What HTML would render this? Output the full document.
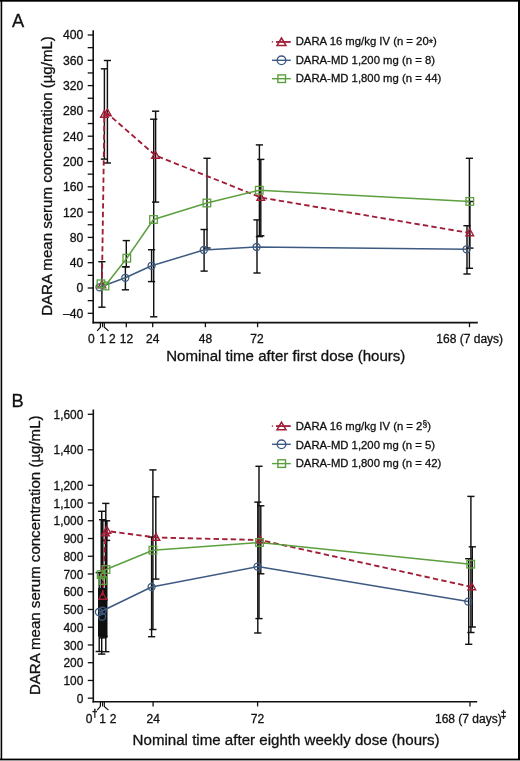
<!DOCTYPE html>
<html><head><meta charset="utf-8"><title>DARA serum concentration</title>
<style>html,body{margin:0;padding:0;background:#fff;width:520px;height:761px;overflow:hidden}svg{display:block;will-change:transform}text{font-family:"Liberation Sans",sans-serif;stroke:#111;stroke-width:0.3px}</style>
</head><body>
<svg width="520" height="761" viewBox="0 0 520 761" font-family="Liberation Sans, sans-serif" fill="#111">
<rect x="0" y="0" width="520" height="761" fill="#fff"/>
<line x1="93.2" y1="30.3" x2="93.2" y2="323.40000000000003" stroke="#111" stroke-width="1.6" />
<line x1="87.7" y1="313.3" x2="93.2" y2="313.3" stroke="#111" stroke-width="1.3" />
<line x1="87.7" y1="300.65" x2="93.2" y2="300.65" stroke="#111" stroke-width="1.3" />
<line x1="87.7" y1="288.0" x2="93.2" y2="288.0" stroke="#111" stroke-width="1.3" />
<line x1="87.7" y1="275.35" x2="93.2" y2="275.35" stroke="#111" stroke-width="1.3" />
<line x1="87.7" y1="262.7" x2="93.2" y2="262.7" stroke="#111" stroke-width="1.3" />
<line x1="87.7" y1="250.05" x2="93.2" y2="250.05" stroke="#111" stroke-width="1.3" />
<line x1="87.7" y1="237.4" x2="93.2" y2="237.4" stroke="#111" stroke-width="1.3" />
<line x1="87.7" y1="224.75" x2="93.2" y2="224.75" stroke="#111" stroke-width="1.3" />
<line x1="87.7" y1="212.10000000000002" x2="93.2" y2="212.10000000000002" stroke="#111" stroke-width="1.3" />
<line x1="87.7" y1="199.45" x2="93.2" y2="199.45" stroke="#111" stroke-width="1.3" />
<line x1="87.7" y1="186.8" x2="93.2" y2="186.8" stroke="#111" stroke-width="1.3" />
<line x1="87.7" y1="174.15" x2="93.2" y2="174.15" stroke="#111" stroke-width="1.3" />
<line x1="87.7" y1="161.5" x2="93.2" y2="161.5" stroke="#111" stroke-width="1.3" />
<line x1="87.7" y1="148.85000000000002" x2="93.2" y2="148.85000000000002" stroke="#111" stroke-width="1.3" />
<line x1="87.7" y1="136.20000000000002" x2="93.2" y2="136.20000000000002" stroke="#111" stroke-width="1.3" />
<line x1="87.7" y1="123.55000000000001" x2="93.2" y2="123.55000000000001" stroke="#111" stroke-width="1.3" />
<line x1="87.7" y1="110.9" x2="93.2" y2="110.9" stroke="#111" stroke-width="1.3" />
<line x1="87.7" y1="98.25000000000003" x2="93.2" y2="98.25000000000003" stroke="#111" stroke-width="1.3" />
<line x1="87.7" y1="85.60000000000002" x2="93.2" y2="85.60000000000002" stroke="#111" stroke-width="1.3" />
<line x1="87.7" y1="72.95000000000002" x2="93.2" y2="72.95000000000002" stroke="#111" stroke-width="1.3" />
<line x1="87.7" y1="60.30000000000001" x2="93.2" y2="60.30000000000001" stroke="#111" stroke-width="1.3" />
<line x1="87.7" y1="47.650000000000006" x2="93.2" y2="47.650000000000006" stroke="#111" stroke-width="1.3" />
<line x1="87.7" y1="35.00000000000003" x2="93.2" y2="35.00000000000003" stroke="#111" stroke-width="1.3" />
<line x1="92.6" y1="322.6" x2="477.8" y2="322.6" stroke="#111" stroke-width="1.6" />
<polyline points="100.4,322.6 100.4,327.20000000000005 97.2,330.90000000000003" fill="none" stroke="#111" stroke-width="1.2"/>
<line x1="102.5" y1="322.6" x2="102.5" y2="327.20000000000005" stroke="#111" stroke-width="1.1" />
<polyline points="104.3,322.6 104.3,327.20000000000005 108.5,330.90000000000003" fill="none" stroke="#111" stroke-width="1.2"/>
<line x1="126.3" y1="322.6" x2="126.3" y2="327.20000000000005" stroke="#111" stroke-width="1.3" />
<line x1="152.7" y1="322.6" x2="152.7" y2="327.20000000000005" stroke="#111" stroke-width="1.3" />
<line x1="205.4" y1="322.6" x2="205.4" y2="327.20000000000005" stroke="#111" stroke-width="1.3" />
<line x1="257.6" y1="322.6" x2="257.6" y2="327.20000000000005" stroke="#111" stroke-width="1.3" />
<line x1="469.5" y1="322.6" x2="469.5" y2="327.20000000000005" stroke="#111" stroke-width="1.3" />
<text x="83.3" y="317.7" font-size="12.2" text-anchor="end" >&#8211;40</text>
<text x="83.3" y="292.4" font-size="12.2" text-anchor="end" >0</text>
<text x="83.3" y="267.09999999999997" font-size="12.2" text-anchor="end" >40</text>
<text x="83.3" y="241.8" font-size="12.2" text-anchor="end" >80</text>
<text x="83.3" y="216.50000000000003" font-size="12.2" text-anchor="end" >120</text>
<text x="83.3" y="191.20000000000002" font-size="12.2" text-anchor="end" >160</text>
<text x="83.3" y="165.9" font-size="12.2" text-anchor="end" >200</text>
<text x="83.3" y="140.60000000000002" font-size="12.2" text-anchor="end" >240</text>
<text x="83.3" y="115.30000000000001" font-size="12.2" text-anchor="end" >280</text>
<text x="83.3" y="90.00000000000003" font-size="12.2" text-anchor="end" >320</text>
<text x="83.3" y="64.70000000000002" font-size="12.2" text-anchor="end" >360</text>
<text x="83.3" y="39.40000000000003" font-size="12.2" text-anchor="end" >400</text>
<text x="91.4" y="343.4" font-size="12" text-anchor="middle" >0</text>
<text x="102.5" y="343.4" font-size="12" text-anchor="middle" >1</text>
<text x="112.4" y="343.4" font-size="12" text-anchor="middle" >2</text>
<text x="126.5" y="343.4" font-size="12" text-anchor="middle" >12</text>
<text x="152.7" y="343.4" font-size="12" text-anchor="middle" >24</text>
<text x="205.4" y="343.4" font-size="12" text-anchor="middle" >48</text>
<text x="257.0" y="343.4" font-size="12" text-anchor="middle" >72</text>
<text x="469.7" y="343.4" font-size="12" text-anchor="middle" >168 (7 days)</text>
<text x="166.2" y="361.2" font-size="15.05" text-anchor="start" >Nominal time after first dose (hours)</text>
<text transform="translate(52.1,315.8) rotate(-90)" x="0" y="0" font-size="15.05">DARA mean serum concentration (&#181;g/mL)</text>
<text x="12.0" y="27.4" font-size="18.3" text-anchor="start" >A</text>
<rect x="271.8" y="41.199999999999996" width="1.3" height="1.3" fill="#a11d36"/>
<line x1="276" y1="41.9" x2="290.6" y2="41.9" stroke="#a11d36" stroke-width="1.4" />
<polygon points="281.5,38.0 277.0,45.6 286.0,45.6" fill="none" stroke="#a11d36" stroke-width="1.5"/>
<line x1="276" y1="41.9" x2="290.6" y2="41.9" stroke="#a11d36" stroke-width="1.4" />
<line x1="272" y1="60.3" x2="290.8" y2="60.3" stroke="#3d5a82" stroke-width="1.4" />
<circle cx="281.5" cy="60.3" r="4.3" fill="none" stroke="#3d5a82" stroke-width="1.4"/>
<line x1="272" y1="78.7" x2="290.8" y2="78.7" stroke="#5c9f3e" stroke-width="1.4" />
<rect x="277.9" y="74.9" width="7.6" height="7.6" fill="none" stroke="#5c9f3e" stroke-width="1.4"/>
<text x="295.7" y="45.3" font-size="11.32" text-anchor="start" >DARA 16 mg/kg IV (n = 20<tspan dy="1.3" font-size="11">*</tspan><tspan dy="-1.3">)</tspan></text>
<text x="295.7" y="63.8" font-size="11.32" text-anchor="start" >DARA-MD 1,200 mg (n = 8)</text>
<text x="295.7" y="82.3" font-size="11.32" text-anchor="start" >DARA-MD 1,800 mg (n = 44)</text>
<line x1="101.9" y1="261.7" x2="101.9" y2="307.2" stroke="#111" stroke-width="1.45" />
<line x1="98.30000000000001" y1="261.7" x2="105.5" y2="261.7" stroke="#111" stroke-width="1.45" />
<line x1="98.30000000000001" y1="307.2" x2="105.5" y2="307.2" stroke="#111" stroke-width="1.45" />
<line x1="104.4" y1="68.8" x2="104.4" y2="159.1" stroke="#111" stroke-width="1.45" />
<line x1="100.80000000000001" y1="68.8" x2="108.0" y2="68.8" stroke="#111" stroke-width="1.45" />
<line x1="100.80000000000001" y1="159.1" x2="108.0" y2="159.1" stroke="#111" stroke-width="1.45" />
<line x1="107.4" y1="60.5" x2="107.4" y2="163.0" stroke="#111" stroke-width="1.45" />
<line x1="103.80000000000001" y1="60.5" x2="111.0" y2="60.5" stroke="#111" stroke-width="1.45" />
<line x1="103.80000000000001" y1="163.0" x2="111.0" y2="163.0" stroke="#111" stroke-width="1.45" />
<line x1="125.4" y1="266.8" x2="125.4" y2="289.8" stroke="#111" stroke-width="1.45" />
<line x1="121.80000000000001" y1="266.8" x2="129.0" y2="266.8" stroke="#111" stroke-width="1.45" />
<line x1="121.80000000000001" y1="289.8" x2="129.0" y2="289.8" stroke="#111" stroke-width="1.45" />
<line x1="126.3" y1="240.6" x2="126.3" y2="266.8" stroke="#111" stroke-width="1.45" />
<line x1="122.7" y1="240.6" x2="129.9" y2="240.6" stroke="#111" stroke-width="1.45" />
<line x1="122.7" y1="266.8" x2="129.9" y2="266.8" stroke="#111" stroke-width="1.45" />
<line x1="151.6" y1="249.7" x2="151.6" y2="281.6" stroke="#111" stroke-width="1.45" />
<line x1="148.0" y1="249.7" x2="155.2" y2="249.7" stroke="#111" stroke-width="1.45" />
<line x1="148.0" y1="281.6" x2="155.2" y2="281.6" stroke="#111" stroke-width="1.45" />
<line x1="153.7" y1="119.2" x2="153.7" y2="316.8" stroke="#111" stroke-width="1.45" />
<line x1="150.1" y1="119.2" x2="157.29999999999998" y2="119.2" stroke="#111" stroke-width="1.45" />
<line x1="150.1" y1="316.8" x2="157.29999999999998" y2="316.8" stroke="#111" stroke-width="1.45" />
<line x1="155.6" y1="111.2" x2="155.6" y2="202.1" stroke="#111" stroke-width="1.45" />
<line x1="152.0" y1="111.2" x2="159.2" y2="111.2" stroke="#111" stroke-width="1.45" />
<line x1="152.0" y1="202.1" x2="159.2" y2="202.1" stroke="#111" stroke-width="1.45" />
<line x1="204.1" y1="229.5" x2="204.1" y2="271.1" stroke="#111" stroke-width="1.45" />
<line x1="200.5" y1="229.5" x2="207.7" y2="229.5" stroke="#111" stroke-width="1.45" />
<line x1="200.5" y1="271.1" x2="207.7" y2="271.1" stroke="#111" stroke-width="1.45" />
<line x1="207.0" y1="158.3" x2="207.0" y2="248.0" stroke="#111" stroke-width="1.45" />
<line x1="203.4" y1="158.3" x2="210.6" y2="158.3" stroke="#111" stroke-width="1.45" />
<line x1="203.4" y1="248.0" x2="210.6" y2="248.0" stroke="#111" stroke-width="1.45" />
<line x1="257.0" y1="219.9" x2="257.0" y2="273.0" stroke="#111" stroke-width="1.45" />
<line x1="253.4" y1="219.9" x2="260.6" y2="219.9" stroke="#111" stroke-width="1.45" />
<line x1="253.4" y1="273.0" x2="260.6" y2="273.0" stroke="#111" stroke-width="1.45" />
<line x1="259.4" y1="144.9" x2="259.4" y2="236.6" stroke="#111" stroke-width="1.45" />
<line x1="255.79999999999998" y1="144.9" x2="263.0" y2="144.9" stroke="#111" stroke-width="1.45" />
<line x1="255.79999999999998" y1="236.6" x2="263.0" y2="236.6" stroke="#111" stroke-width="1.45" />
<line x1="260.8" y1="159.4" x2="260.8" y2="235.8" stroke="#111" stroke-width="1.45" />
<line x1="257.2" y1="159.4" x2="264.40000000000003" y2="159.4" stroke="#111" stroke-width="1.45" />
<line x1="257.2" y1="235.8" x2="264.40000000000003" y2="235.8" stroke="#111" stroke-width="1.45" />
<line x1="467.0" y1="225.7" x2="467.0" y2="274.0" stroke="#111" stroke-width="1.45" />
<line x1="463.4" y1="225.7" x2="470.6" y2="225.7" stroke="#111" stroke-width="1.45" />
<line x1="463.4" y1="274.0" x2="470.6" y2="274.0" stroke="#111" stroke-width="1.45" />
<line x1="469.4" y1="158.3" x2="469.4" y2="268.3" stroke="#111" stroke-width="1.45" />
<line x1="465.79999999999995" y1="158.3" x2="473.0" y2="158.3" stroke="#111" stroke-width="1.45" />
<line x1="465.79999999999995" y1="268.3" x2="473.0" y2="268.3" stroke="#111" stroke-width="1.45" />
<line x1="469.9" y1="201.5" x2="469.9" y2="248.1" stroke="#111" stroke-width="1.45" />
<line x1="466.29999999999995" y1="201.5" x2="473.5" y2="201.5" stroke="#111" stroke-width="1.45" />
<line x1="466.29999999999995" y1="248.1" x2="473.5" y2="248.1" stroke="#111" stroke-width="1.45" />
<polyline points="101.9,286.0 104.4,115 107.4,113.5 155.5,155.5 260.8,197.5 469.8,233" fill="none" stroke="#a11d36" stroke-width="1.85" stroke-dasharray="5.4,3.2" stroke-linejoin="round"/>
<polyline points="99.5,287.3 125.3,277.8 151.6,265.8 203.8,250 256.6,247 466.6,249.3" fill="none" stroke="#3d5a82" stroke-width="1.5"  stroke-linejoin="round"/>
<polyline points="101,283.8 105,286 126.8,258.2 153.5,219.5 206.9,203 259.3,190.2 469.8,201.4" fill="none" stroke="#5c9f3e" stroke-width="1.5"  stroke-linejoin="round"/>
<polygon points="101.9,280.896 98.10000000000001,287.736 105.7,287.736" fill="none" stroke="#a11d36" stroke-width="1.4" stroke-linejoin="miter"/>
<polygon points="104.4,110.396 100.60000000000001,117.236 108.2,117.236" fill="none" stroke="#a11d36" stroke-width="1.4" stroke-linejoin="miter"/>
<polygon points="107.4,108.896 103.60000000000001,115.736 111.2,115.736" fill="none" stroke="#a11d36" stroke-width="1.4" stroke-linejoin="miter"/>
<polygon points="155.5,151.396 151.7,158.236 159.3,158.236" fill="none" stroke="#a11d36" stroke-width="1.4" stroke-linejoin="miter"/>
<polygon points="260.8,193.396 257.0,200.236 264.6,200.236" fill="none" stroke="#a11d36" stroke-width="1.4" stroke-linejoin="miter"/>
<polygon points="469.8,228.896 466.0,235.736 473.6,235.736" fill="none" stroke="#a11d36" stroke-width="1.4" stroke-linejoin="miter"/>
<circle cx="99.5" cy="287.3" r="3.5" fill="none" stroke="#3d5a82" stroke-width="1.3"/>
<circle cx="125.3" cy="277.8" r="3.5" fill="none" stroke="#3d5a82" stroke-width="1.3"/>
<circle cx="151.6" cy="265.8" r="3.5" fill="none" stroke="#3d5a82" stroke-width="1.3"/>
<circle cx="203.8" cy="250" r="3.5" fill="none" stroke="#3d5a82" stroke-width="1.3"/>
<circle cx="256.6" cy="247" r="3.5" fill="none" stroke="#3d5a82" stroke-width="1.3"/>
<circle cx="466.6" cy="249.3" r="3.5" fill="none" stroke="#3d5a82" stroke-width="1.3"/>
<rect x="97.2" y="280.0" width="7.6" height="7.6" fill="none" stroke="#5c9f3e" stroke-width="1.3"/>
<rect x="101.2" y="282.2" width="7.6" height="7.6" fill="none" stroke="#5c9f3e" stroke-width="1.3"/>
<rect x="123.0" y="254.39999999999998" width="7.6" height="7.6" fill="none" stroke="#5c9f3e" stroke-width="1.3"/>
<rect x="149.7" y="215.7" width="7.6" height="7.6" fill="none" stroke="#5c9f3e" stroke-width="1.3"/>
<rect x="203.1" y="199.2" width="7.6" height="7.6" fill="none" stroke="#5c9f3e" stroke-width="1.3"/>
<rect x="255.5" y="186.39999999999998" width="7.6" height="7.6" fill="none" stroke="#5c9f3e" stroke-width="1.3"/>
<rect x="466.0" y="197.6" width="7.6" height="7.6" fill="none" stroke="#5c9f3e" stroke-width="1.3"/>
<line x1="93.3" y1="409.5" x2="93.3" y2="702.5999999999999" stroke="#111" stroke-width="1.6" />
<line x1="87.8" y1="698.2" x2="93.3" y2="698.2" stroke="#111" stroke-width="1.3" />
<line x1="87.8" y1="680.456" x2="93.3" y2="680.456" stroke="#111" stroke-width="1.3" />
<line x1="87.8" y1="662.712" x2="93.3" y2="662.712" stroke="#111" stroke-width="1.3" />
<line x1="87.8" y1="644.9680000000001" x2="93.3" y2="644.9680000000001" stroke="#111" stroke-width="1.3" />
<line x1="87.8" y1="627.224" x2="93.3" y2="627.224" stroke="#111" stroke-width="1.3" />
<line x1="87.8" y1="609.48" x2="93.3" y2="609.48" stroke="#111" stroke-width="1.3" />
<line x1="87.8" y1="591.7360000000001" x2="93.3" y2="591.7360000000001" stroke="#111" stroke-width="1.3" />
<line x1="87.8" y1="573.9920000000001" x2="93.3" y2="573.9920000000001" stroke="#111" stroke-width="1.3" />
<line x1="87.8" y1="556.248" x2="93.3" y2="556.248" stroke="#111" stroke-width="1.3" />
<line x1="87.8" y1="538.504" x2="93.3" y2="538.504" stroke="#111" stroke-width="1.3" />
<line x1="87.8" y1="520.76" x2="93.3" y2="520.76" stroke="#111" stroke-width="1.3" />
<line x1="87.8" y1="503.0160000000001" x2="93.3" y2="503.0160000000001" stroke="#111" stroke-width="1.3" />
<line x1="87.8" y1="485.27200000000005" x2="93.3" y2="485.27200000000005" stroke="#111" stroke-width="1.3" />
<line x1="87.8" y1="449.7840000000001" x2="93.3" y2="449.7840000000001" stroke="#111" stroke-width="1.3" />
<line x1="87.8" y1="414.29600000000005" x2="93.3" y2="414.29600000000005" stroke="#111" stroke-width="1.3" />
<line x1="92.6" y1="701.8" x2="477.2" y2="701.8" stroke="#111" stroke-width="1.6" />
<polyline points="100.4,701.8 100.4,706.4 97.2,710.0999999999999" fill="none" stroke="#111" stroke-width="1.2"/>
<line x1="102.5" y1="701.8" x2="102.5" y2="706.4" stroke="#111" stroke-width="1.1" />
<polyline points="104.3,701.8 104.3,706.4 108.5,710.0999999999999" fill="none" stroke="#111" stroke-width="1.2"/>
<line x1="153.1" y1="701.8" x2="153.1" y2="706.4" stroke="#111" stroke-width="1.3" />
<line x1="257.6" y1="701.8" x2="257.6" y2="706.4" stroke="#111" stroke-width="1.3" />
<line x1="470.0" y1="701.8" x2="470.0" y2="706.4" stroke="#111" stroke-width="1.3" />
<text x="83.3" y="702.8000000000001" font-size="11.9" text-anchor="end" >0</text>
<text x="83.3" y="685.056" font-size="11.9" text-anchor="end" >100</text>
<text x="83.3" y="667.312" font-size="11.9" text-anchor="end" >200</text>
<text x="83.3" y="649.5680000000001" font-size="11.9" text-anchor="end" >300</text>
<text x="83.3" y="631.8240000000001" font-size="11.9" text-anchor="end" >400</text>
<text x="83.3" y="614.08" font-size="11.9" text-anchor="end" >500</text>
<text x="83.3" y="596.3360000000001" font-size="11.9" text-anchor="end" >600</text>
<text x="83.3" y="578.5920000000001" font-size="11.9" text-anchor="end" >700</text>
<text x="83.3" y="560.8480000000001" font-size="11.9" text-anchor="end" >800</text>
<text x="83.3" y="543.104" font-size="11.9" text-anchor="end" >900</text>
<text x="83.3" y="525.36" font-size="11.9" text-anchor="end" >1,000</text>
<text x="83.3" y="507.6160000000001" font-size="11.9" text-anchor="end" >1,100</text>
<text x="83.3" y="489.87200000000007" font-size="11.9" text-anchor="end" >1,200</text>
<text x="83.3" y="454.3840000000001" font-size="11.9" text-anchor="end" >1,400</text>
<text x="83.3" y="418.8960000000001" font-size="11.9" text-anchor="end" >1,600</text>
<text x="89.1" y="722.7" font-size="12" text-anchor="middle" >0</text>
<text x="102.7" y="722.7" font-size="12" text-anchor="middle" >1</text>
<text x="113.1" y="722.7" font-size="12" text-anchor="middle" >2</text>
<text x="153.3" y="722.7" font-size="12" text-anchor="middle" >24</text>
<text x="257.5" y="722.7" font-size="12" text-anchor="middle" >72</text>
<text x="94.8" y="716.8" font-size="10" text-anchor="middle" font-weight="bold">&#8224;</text>
<text x="435.0" y="722.7" font-size="12" text-anchor="start" >168 (7 days)</text>
<text x="503.6" y="717.6" font-size="10" text-anchor="middle" font-weight="bold">&#8225;</text>
<text x="132.6" y="745.0" font-size="15.1" text-anchor="start" >Nominal time after eighth weekly dose (hours)</text>
<text transform="translate(40.1,695.1) rotate(-90)" x="0" y="0" font-size="15.05">DARA mean serum concentration (&#181;g/mL)</text>
<text x="11.5" y="406.9" font-size="18.3" text-anchor="start" >B</text>
<rect x="271.8" y="425.40000000000003" width="1.3" height="1.3" fill="#a11d36"/>
<line x1="276" y1="426.1" x2="290.6" y2="426.1" stroke="#a11d36" stroke-width="1.4" />
<polygon points="281.5,422.20000000000005 277.0,429.8 286.0,429.8" fill="none" stroke="#a11d36" stroke-width="1.5"/>
<line x1="276" y1="426.1" x2="290.6" y2="426.1" stroke="#a11d36" stroke-width="1.4" />
<line x1="272" y1="444.3" x2="290.8" y2="444.3" stroke="#3d5a82" stroke-width="1.4" />
<circle cx="281.5" cy="444.3" r="4.3" fill="none" stroke="#3d5a82" stroke-width="1.4"/>
<line x1="272" y1="463.6" x2="290.8" y2="463.6" stroke="#5c9f3e" stroke-width="1.4" />
<rect x="277.9" y="459.8" width="7.6" height="7.6" fill="none" stroke="#5c9f3e" stroke-width="1.4"/>
<text x="295.7" y="430.2" font-size="11.32" text-anchor="start" >DARA 16 mg/kg IV (n = 2<tspan dy="-3.2" font-size="8.5">&#167;</tspan><tspan dy="3.2">)</tspan></text>
<text x="295.7" y="448.5" font-size="11.32" text-anchor="start" >DARA-MD 1,200 mg (n = 5)</text>
<text x="295.7" y="467.2" font-size="11.32" text-anchor="start" >DARA-MD 1,800 mg (n = 42)</text>
<rect x="100.5" y="519.7" width="2.9" height="118" fill="#111"/>
<rect x="104.7" y="520.8" width="2.8" height="117" fill="#111"/>
<rect x="98.0" y="588" width="8.6" height="48.6" fill="#111"/>
<line x1="105.8" y1="503.4" x2="105.8" y2="651.7" stroke="#111" stroke-width="1.45" />
<line x1="102.2" y1="503.4" x2="109.39999999999999" y2="503.4" stroke="#111" stroke-width="1.45" />
<line x1="102.2" y1="651.7" x2="109.39999999999999" y2="651.7" stroke="#111" stroke-width="1.45" />
<line x1="101.7" y1="511.3" x2="101.7" y2="654.1" stroke="#111" stroke-width="1.45" />
<line x1="98.10000000000001" y1="511.3" x2="105.3" y2="511.3" stroke="#111" stroke-width="1.45" />
<line x1="98.10000000000001" y1="654.1" x2="105.3" y2="654.1" stroke="#111" stroke-width="1.45" />
<line x1="102.6" y1="519.7" x2="102.6" y2="637.9" stroke="#111" stroke-width="1.45" />
<line x1="99.0" y1="519.7" x2="106.19999999999999" y2="519.7" stroke="#111" stroke-width="1.45" />
<line x1="99.0" y1="637.9" x2="106.19999999999999" y2="637.9" stroke="#111" stroke-width="1.45" />
<line x1="106.6" y1="520.8" x2="106.6" y2="540.4" stroke="#111" stroke-width="1.45" />
<line x1="103.0" y1="520.8" x2="110.19999999999999" y2="520.8" stroke="#111" stroke-width="1.45" />
<line x1="103.0" y1="540.4" x2="110.19999999999999" y2="540.4" stroke="#111" stroke-width="1.45" />
<line x1="104.0" y1="600" x2="104.0" y2="636.4" stroke="#111" stroke-width="1.45" />
<line x1="100.4" y1="600" x2="107.6" y2="600" stroke="#111" stroke-width="1.45" />
<line x1="100.4" y1="636.4" x2="107.6" y2="636.4" stroke="#111" stroke-width="1.45" />
<line x1="99.2" y1="572.6" x2="99.2" y2="651.5" stroke="#111" stroke-width="1.45" />
<line x1="95.60000000000001" y1="572.6" x2="102.8" y2="572.6" stroke="#111" stroke-width="1.45" />
<line x1="95.60000000000001" y1="651.5" x2="102.8" y2="651.5" stroke="#111" stroke-width="1.45" />
<line x1="151.6" y1="537" x2="151.6" y2="636.7" stroke="#111" stroke-width="1.45" />
<line x1="148.0" y1="537" x2="155.2" y2="537" stroke="#111" stroke-width="1.45" />
<line x1="148.0" y1="636.7" x2="155.2" y2="636.7" stroke="#111" stroke-width="1.45" />
<line x1="152.9" y1="469.9" x2="152.9" y2="629.5" stroke="#111" stroke-width="1.45" />
<line x1="149.3" y1="469.9" x2="156.5" y2="469.9" stroke="#111" stroke-width="1.45" />
<line x1="149.3" y1="629.5" x2="156.5" y2="629.5" stroke="#111" stroke-width="1.45" />
<line x1="155.8" y1="496.8" x2="155.8" y2="579.1" stroke="#111" stroke-width="1.45" />
<line x1="152.20000000000002" y1="496.8" x2="159.4" y2="496.8" stroke="#111" stroke-width="1.45" />
<line x1="152.20000000000002" y1="579.1" x2="159.4" y2="579.1" stroke="#111" stroke-width="1.45" />
<line x1="257.8" y1="502.1" x2="257.8" y2="633.0" stroke="#111" stroke-width="1.45" />
<line x1="254.20000000000002" y1="502.1" x2="261.40000000000003" y2="502.1" stroke="#111" stroke-width="1.45" />
<line x1="254.20000000000002" y1="633.0" x2="261.40000000000003" y2="633.0" stroke="#111" stroke-width="1.45" />
<line x1="259.0" y1="466.3" x2="259.0" y2="618.6" stroke="#111" stroke-width="1.45" />
<line x1="255.4" y1="466.3" x2="262.6" y2="466.3" stroke="#111" stroke-width="1.45" />
<line x1="255.4" y1="618.6" x2="262.6" y2="618.6" stroke="#111" stroke-width="1.45" />
<line x1="260.8" y1="505.8" x2="260.8" y2="573.8" stroke="#111" stroke-width="1.45" />
<line x1="257.2" y1="505.8" x2="264.40000000000003" y2="505.8" stroke="#111" stroke-width="1.45" />
<line x1="257.2" y1="573.8" x2="264.40000000000003" y2="573.8" stroke="#111" stroke-width="1.45" />
<line x1="468.7" y1="558.7" x2="468.7" y2="644.3" stroke="#111" stroke-width="1.45" />
<line x1="465.09999999999997" y1="558.7" x2="472.3" y2="558.7" stroke="#111" stroke-width="1.45" />
<line x1="465.09999999999997" y1="644.3" x2="472.3" y2="644.3" stroke="#111" stroke-width="1.45" />
<line x1="470.9" y1="496.4" x2="470.9" y2="632.5" stroke="#111" stroke-width="1.45" />
<line x1="467.29999999999995" y1="496.4" x2="474.5" y2="496.4" stroke="#111" stroke-width="1.45" />
<line x1="467.29999999999995" y1="632.5" x2="474.5" y2="632.5" stroke="#111" stroke-width="1.45" />
<line x1="472.3" y1="546.8" x2="472.3" y2="627.0" stroke="#111" stroke-width="1.45" />
<line x1="468.7" y1="546.8" x2="475.90000000000003" y2="546.8" stroke="#111" stroke-width="1.45" />
<line x1="468.7" y1="627.0" x2="475.90000000000003" y2="627.0" stroke="#111" stroke-width="1.45" />
<polyline points="102.6,595.5 105.5,533.5 106.9,531 156,537.5 260.1,540 471.8,587" fill="none" stroke="#a11d36" stroke-width="1.85" stroke-dasharray="5.4,3.2" stroke-linejoin="round"/>
<polyline points="98.9,612 102.6,610.7 151.6,587 257.5,566.6 468.2,601.6" fill="none" stroke="#3d5a82" stroke-width="1.5"  stroke-linejoin="round"/>
<polyline points="103,580.5 101.2,574.6 106,569.5 152.9,550.2 259.5,542.5 470.7,564.2" fill="none" stroke="#5c9f3e" stroke-width="1.5"  stroke-linejoin="round"/>
<polygon points="102.6,592.396 98.8,599.236 106.39999999999999,599.236" fill="none" stroke="#a11d36" stroke-width="1.4" stroke-linejoin="miter"/>
<polygon points="105.5,528.896 101.7,535.736 109.3,535.736" fill="none" stroke="#a11d36" stroke-width="1.4" stroke-linejoin="miter"/>
<polygon points="106.9,526.396 103.10000000000001,533.236 110.7,533.236" fill="none" stroke="#a11d36" stroke-width="1.4" stroke-linejoin="miter"/>
<polygon points="156,533.396 152.2,540.236 159.8,540.236" fill="none" stroke="#a11d36" stroke-width="1.4" stroke-linejoin="miter"/>
<polygon points="260.1,535.896 256.3,542.736 263.90000000000003,542.736" fill="none" stroke="#a11d36" stroke-width="1.4" stroke-linejoin="miter"/>
<polygon points="471.8,582.896 468.0,589.736 475.6,589.736" fill="none" stroke="#a11d36" stroke-width="1.4" stroke-linejoin="miter"/>
<circle cx="98.9" cy="612" r="3.5" fill="none" stroke="#3d5a82" stroke-width="1.3"/>
<circle cx="102.6" cy="610.7" r="3.5" fill="none" stroke="#3d5a82" stroke-width="1.3"/>
<circle cx="102.1" cy="616.7" r="3.5" fill="none" stroke="#3d5a82" stroke-width="1.3"/>
<circle cx="151.6" cy="587" r="3.5" fill="none" stroke="#3d5a82" stroke-width="1.3"/>
<circle cx="257.5" cy="566.6" r="3.5" fill="none" stroke="#3d5a82" stroke-width="1.3"/>
<circle cx="468.2" cy="601.6" r="3.5" fill="none" stroke="#3d5a82" stroke-width="1.3"/>
<rect x="99.2" y="576.7" width="7.6" height="7.6" fill="none" stroke="#5c9f3e" stroke-width="1.3"/>
<rect x="97.4" y="570.8000000000001" width="7.6" height="7.6" fill="none" stroke="#5c9f3e" stroke-width="1.3"/>
<rect x="102.2" y="565.7" width="7.6" height="7.6" fill="none" stroke="#5c9f3e" stroke-width="1.3"/>
<rect x="149.1" y="546.4000000000001" width="7.6" height="7.6" fill="none" stroke="#5c9f3e" stroke-width="1.3"/>
<rect x="255.7" y="538.7" width="7.6" height="7.6" fill="none" stroke="#5c9f3e" stroke-width="1.3"/>
<rect x="466.9" y="560.4000000000001" width="7.6" height="7.6" fill="none" stroke="#5c9f3e" stroke-width="1.3"/>
<rect x="0" y="0" width="1" height="761" fill="#9a9a9a"/>
<rect x="0" y="760" width="520" height="1" fill="#9a9a9a"/>
<rect x="0" y="0" width="520" height="1.7" fill="#000"/>
<rect x="1" y="0" width="1.2" height="760" fill="#000"/>
<rect x="518" y="0" width="2" height="760" fill="#000"/>
<rect x="0" y="758.6" width="520" height="1.4" fill="#000"/>
</svg>
</body></html>
